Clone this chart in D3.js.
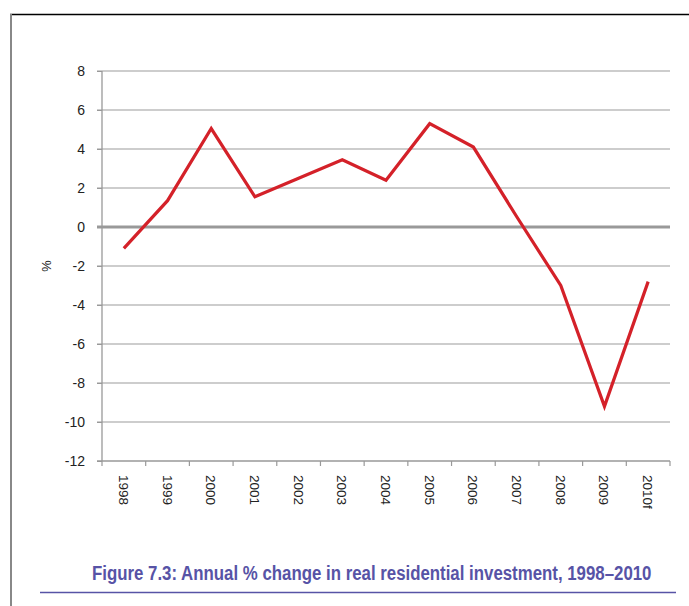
<!DOCTYPE html>
<html>
<head>
<meta charset="utf-8">
<script src="https://cdn.jsdelivr.net/npm/d3@7"></script>
<style>
  body { margin: 0; background: #fff; }
  svg { display: block; }
</style>
</head>
<body>
<svg id="chart" width="689" height="606"></svg>
<script>
// Annual % change in real residential investment
const years = ['1998', '1999', '2000', '2001', '2002', '2003', '2004', '2005', '2006', '2007', '2008', '2009', '2010f'];
const changes = [-1.1, 1.35, 5.05, 1.55, 2.5, 3.45, 2.4, 5.3, 4.1, 0.5, -3.0, -9.2, -2.8];
const yTicks = [8, 6, 4, 2, 0, -2, -4, -6, -8, -10, -12];
const title = 'Figure 7.3: Annual % change in real residential investment, 1998\u20132010';

const FONT = '"Liberation Sans", Arimo, Arial, sans-serif';
const svg = d3.select('#chart');
const plot = { left: 102, right: 670, top: 71, bottom: 461 };

// frame
svg.append('line').attr('x1', 10).attr('x2', 689).attr('y1', 14.5).attr('y2', 14.5)
    .attr('stroke', '#000').attr('stroke-width', 1.5);
svg.append('line').attr('x1', 11).attr('x2', 11).attr('y1', 14).attr('y2', 606)
    .attr('stroke', '#888').attr('stroke-width', 2);

const x = d3.scaleBand().domain(years).range([plot.left, plot.right]);
const y = d3.scaleLinear().domain([-12, 8]).range([plot.bottom, plot.top]);

// gridlines
svg.append('g').selectAll('line')
    .data(yTicks.filter(d => d !== -12 && d !== 0))
    .enter().append('line')
    .attr('x1', plot.left - 5).attr('x2', plot.right)
    .attr('y1', d => y(d)).attr('y2', d => y(d))
    .attr('stroke', '#bdbdbd').attr('stroke-width', 1.3);

// y axis
const yAxis = svg.append('g')
    .attr('transform', `translate(${plot.left},0)`)
    .call(d3.axisLeft(y).tickValues(yTicks).tickSize(5).tickPadding(12).tickFormat(d => String(d)));
yAxis.attr('font-family', FONT).attr('font-size', 14);
yAxis.select('.domain').attr('stroke', '#999').attr('stroke-width', 1.3)
    .attr('d', `M0,${plot.top}V${plot.bottom}`);
yAxis.selectAll('.tick line').attr('stroke', '#999');
yAxis.selectAll('.tick text').attr('fill', '#222');

// x axis
const xAxis = svg.append('g')
    .attr('transform', `translate(0,${plot.bottom})`)
    .call(d3.axisBottom(x).tickSize(0).tickFormat(''));
xAxis.select('.domain').attr('stroke', '#999').attr('stroke-width', 1.3)
    .attr('d', `M${plot.left - 5},0H${plot.right}`);
xAxis.selectAll('.tick').remove();

// tick marks between categories
const bounds = years.map(d => x(d)).concat([plot.right]);
xAxis.selectAll('line.sep').data(bounds).enter().append('line')
    .attr('x1', d => d).attr('x2', d => d).attr('y1', 0).attr('y2', 5)
    .attr('stroke', '#999').attr('stroke-width', 1.2);

// rotated category labels
svg.append('g').selectAll('text')
    .data(years).enter().append('text')
    .attr('font-family', FONT)
    .attr('font-size', 13.5)
    .attr('fill', '#222')
    .attr('transform', d => `translate(${x(d) + x.bandwidth() / 2 - 5},${plot.bottom + 14}) rotate(90)`)
    .text(d => d);

// zero line
svg.append('line')
    .attr('x1', plot.left - 5).attr('x2', plot.right)
    .attr('y1', y(0)).attr('y2', y(0))
    .attr('stroke', '#999').attr('stroke-width', 3);

// y axis title
svg.append('text')
    .attr('font-family', FONT)
    .attr('font-size', 13)
    .attr('fill', '#222')
    .attr('transform', `translate(42,266) rotate(90)`)
    .attr('text-anchor', 'middle')
    .text('%');

// data line
const line = d3.line()
    .x((d, i) => x(years[i]) + x.bandwidth() / 2)
    .y(d => y(d));
svg.append('path')
    .datum(changes)
    .attr('d', line)
    .attr('fill', 'none')
    .attr('stroke', '#d42129')
    .attr('stroke-width', 3.2)
    .attr('stroke-linejoin', 'miter');

// caption: condensed look by squeezing horizontally to the reference width
const cap = svg.append('g');
const capText = cap.append('text')
    .attr('x', 0).attr('y', 0)
    .attr('font-family', FONT)
    .attr('font-weight', 'bold')
    .attr('font-size', 21)
    .attr('fill', '#5753a6')
    .text(title);
const natural = capText.node().getComputedTextLength();
cap.attr('transform', `translate(92,580) scale(${560 / natural},1)`);

svg.append('line')
    .attr('x1', 40).attr('x2', 676).attr('y1', 592.5).attr('y2', 592.5)
    .attr('stroke', '#5753a6').attr('stroke-width', 1.3);
</script>
</body>
</html>
